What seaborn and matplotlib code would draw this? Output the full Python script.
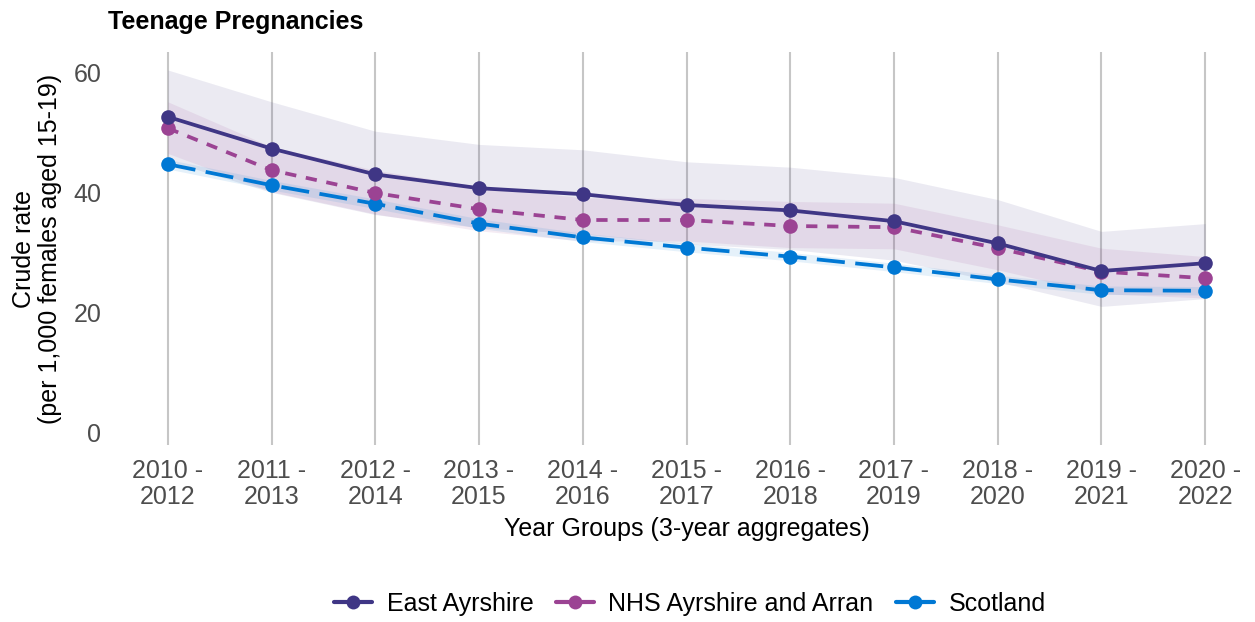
import matplotlib
matplotlib.use("Agg")
import matplotlib.pyplot as plt
import seaborn as sns
import pandas as pd
from matplotlib.lines import Line2D

year_groups = ["2010 -\n2012", "2011 -\n2013", "2012 -\n2014", "2013 -\n2015",
               "2014 -\n2016", "2015 -\n2017", "2016 -\n2018", "2017 -\n2019",
               "2018 -\n2020", "2019 -\n2021", "2020 -\n2022"]
areas = ["East Ayrshire", "NHS Ayrshire and Arran", "Scotland"]

# crude rate per 1,000 females aged 15-19, with 95% CI
east_ayrshire = [52.7, 47.4, 43.1, 40.8, 39.8, 38.0, 37.1, 35.3, 31.6, 27.0, 28.3]
east_ayrshire_lower = [45.4, 40.1, 36.4, 34.2, 33.2, 31.5, 30.6, 28.8, 25.2, 21.1, 22.4]
east_ayrshire_upper = [60.5, 55.2, 50.3, 48.1, 47.2, 45.2, 44.3, 42.6, 38.9, 33.6, 34.9]

nhs_aa = [50.8, 43.8, 40.0, 37.3, 35.5, 35.5, 34.5, 34.3, 30.8, 26.9, 25.8]
nhs_aa_lower = [46.6, 40.2, 36.5, 33.7, 32.0, 32.0, 30.9, 30.7, 27.2, 23.2, 22.5]
nhs_aa_upper = [55.2, 47.7, 43.8, 41.1, 39.2, 39.1, 38.6, 38.3, 34.7, 30.8, 29.4]

scotland = [44.8, 41.3, 38.2, 34.9, 32.6, 30.9, 29.4, 27.6, 25.6, 23.8, 23.7]
scotland_lower = [44.0, 40.5, 37.4, 34.1, 31.9, 30.2, 28.7, 26.9, 24.9, 23.1, 23.0]
scotland_upper = [45.6, 42.1, 39.0, 35.7, 33.3, 31.6, 30.1, 28.3, 26.3, 24.5, 24.4]

colours = {"East Ayrshire": "#3F3685", "NHS Ayrshire and Arran": "#9B4393",
           "Scotland": "#0078D4"}
dashes = {"East Ayrshire": "", "NHS Ayrshire and Arran": (3, 2.6),
          "Scotland": (7.5, 2.8)}

rows = []
for area, vals, lo, hi in [("East Ayrshire", east_ayrshire, east_ayrshire_lower, east_ayrshire_upper),
                           ("NHS Ayrshire and Arran", nhs_aa, nhs_aa_lower, nhs_aa_upper),
                           ("Scotland", scotland, scotland_lower, scotland_upper)]:
    for i, yg in enumerate(year_groups):
        rows.append({"pos": i, "Year Group": yg, "Area": area,
                     "rate": vals[i], "lower": lo[i], "upper": hi[i]})
df = pd.DataFrame(rows)

sns.set_style("white")
plt.rcParams['font.family'] = ['Liberation Sans', 'DejaVu Sans']

fig = plt.figure(figsize=(12.55, 6.22), dpi=100)
ax = fig.add_axes([118 / 1255, 1 - 445 / 622, 1 - 118 / 1255, (445 - 52) / 622])

for area in areas:
    d = df[df["Area"] == area]
    ax.fill_between(d["pos"], d["lower"], d["upper"], color=colours[area],
                    alpha=0.1, linewidth=0, zorder=1)

sns.lineplot(data=df, x="pos", y="rate", hue="Area", style="Area",
             hue_order=areas, style_order=areas, palette=colours,
             dashes=dashes, markers={a: "o" for a in areas}, markersize=10.5,
             markeredgewidth=0, linewidth=2.7, legend=False, ax=ax)
for ln, z in zip(ax.lines, [5, 4, 3]):
    ln.set_zorder(z)

ax.set_xlim(-0.48, 10.48)
ax.set_ylim(-2.0, 63.5)
ax.set_xticks(range(len(year_groups)))
ax.set_xticklabels(year_groups)
ax.set_yticks([0, 20, 40, 60])
ax.grid(axis="x", color="#c6c6c6", linewidth=1.5, zorder=0)
ax.grid(axis="y", visible=False)
ax.set_axisbelow(True)
for s in ax.spines.values():
    s.set_visible(False)
ax.tick_params(axis="x", length=6, width=1.5, color="#c6c6c6", pad=4,
               labelsize=18, labelcolor="#4d4d4d")
ax.tick_params(axis="y", length=0, pad=12, labelsize=18, labelcolor="#4d4d4d")
for t in ax.get_xticklabels():
    t.set_linespacing(1.1)

ax.set_xlabel("Year Groups (3-year aggregates)", fontsize=18, color="black", labelpad=6)
ax.set_ylabel("Crude rate\n(per 1,000 females aged 15-19)", fontsize=18,
              color="black", labelpad=8, linespacing=1.1)

fig.text(108 / 1255, 1 - 22 / 622, "Teenage Pregnancies", fontsize=18,
         fontweight="bold", va="center", ha="left", color="black")

handles = [Line2D([], [], color=colours[a], linestyle="-", linewidth=3,
                  marker="o", markersize=10, markeredgewidth=0) for a in areas]
fig.legend(handles, areas, loc="center", bbox_to_anchor=(690 / 1255, 1 - 604 / 622),
           ncol=3, frameon=False, fontsize=18, handlelength=1.5,
           handletextpad=0.6, columnspacing=0.9, labelcolor="black")

fig.savefig("out.png", dpi=100)
